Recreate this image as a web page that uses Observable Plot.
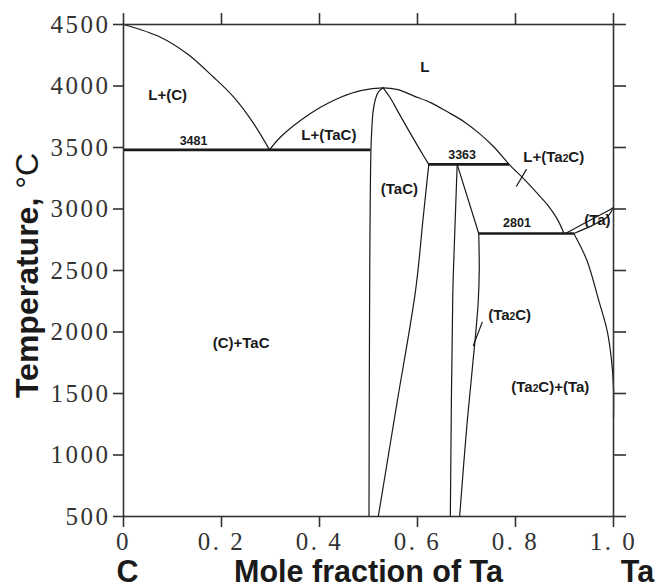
<!DOCTYPE html>
<html><head><meta charset="utf-8">
<script src="https://cdn.jsdelivr.net/npm/d3@7"></script>
<script src="https://cdn.jsdelivr.net/npm/@observablehq/plot@0.6"></script>
<style>
html,body{margin:0;padding:0;background:#fff;}
#chart svg{display:block;}
.serif-ticks text{font-family:"Liberation Serif","DejaVu Serif",serif;letter-spacing:2.5px;}
</style>
</head><body><div id="chart"></div><script>
// Axis ticks
const xTicks = [0, 0.2, 0.4, 0.6, 0.8, 1.0];
const xTickLabels = ["0", "0. 2", "0. 4", "0. 6", "0. 8", "1. 0"];
const yTicks = [500, 1000, 1500, 2000, 2500, 3000, 3500, 4000, 4500];
const yTickLabels = ["500", "1000", "1500", "2000", "2500", "3000", "3500", "4000", "4500"];

// Phase boundaries: [mole fraction Ta, temperature °C]
const liquidusC = [[0,4500],[0.0755,4397],[0.13,4262],[0.184,4071],[0.225,3909],[0.266,3692],[0.298,3481]];
const liquidusTaC = [[0.298,3481],[0.320,3583],[0.361,3719],[0.402,3827],[0.443,3909],[0.484,3963],[0.53,3985],
  [0.56,3970],[0.592,3920],[0.627,3865],[0.661,3790],[0.695,3710],[0.729,3605],[0.757,3500],[0.787,3363],
  [0.817,3245],[0.845,3125],[0.865,3035],[0.885,2920],[0.899,2801]];
const tacLeft = [[0.53,3985],[0.52,3950],[0.514,3890],[0.509,3780],[0.507,3670],[0.505,3481],[0.503,2800],[0.502,2000],[0.501,500]];
const tacRightUpper = [[0.53,3985],[0.545,3900],[0.559,3800],[0.586,3611],[0.606,3475],[0.623,3363]];
const tacRightLower = [[0.623,3363],[0.611,2906],[0.596,2336],[0.558,1420],[0.520,500]];
const ta2cLeft = [[0.681,3363],[0.676,2800],[0.672,2300],[0.667,500]];
const ta2cSolidus = [[0.681,3363],[0.725,2801]];
const ta2cSolvus = [[0.725,2801],[0.726,2500],[0.724,2250],[0.719,2000],[0.713,1750],[0.701,1252],[0.686,500]];
const liquidusTa = [[0.902,2801],[0.953,2911],[0.987,2981],[1.0,3012]];
const solidusTa = [[0.919,2801],[0.960,2873],[0.987,2935],[1.0,3012]];
const solvusTa = [[0.919,2801],[0.946,2580],[0.970,2255],[0.987,2011],[0.996,1767],[1.0,1549],[1.0,1300]];
const leaderTa2CL = [[0.822,3320],[0.802,3185]];
const leaderTa2C = [[0.732,2078],[0.714,1890]];

// Invariant isotherms
const isoTemps = [3481, 3363, 2801];
const isoStart = [0, 0.623, 0.725];
const isoEnd = [0.504, 0.787, 0.919];
const isoLabelX = [0.143, 0.691, 0.803];
const isoLabelT = [3551, 3442, 2884];

// Region labels
const regionNames = ["L", "L+(C)", "L+(TaC)", "(TaC)", "L+(Ta2C)", "(Ta)", "(Ta2C)", "(C)+TaC", "(Ta2C)+(Ta)"];
const regionX = [0.615, 0.090, 0.419, 0.563, 0.878, 0.967, 0.788, 0.240, 0.871];
const regionT = [4153, 3922, 3597, 3163, 3420, 2911, 2133, 1907, 1555];

const smoothCurves = [liquidusC, liquidusTaC, tacLeft, tacRightUpper, tacRightLower, ta2cLeft, ta2cSolvus, liquidusTa, solidusTa, solvusTa];
const straightCurves = [ta2cSolidus, leaderTa2CL, leaderTa2C];
const iso = isoTemps.map((t, i) => ({t, x1: isoStart[i], x2: isoEnd[i], lx: isoLabelX[i], lt: isoLabelT[i]}));
const regions = regionNames.map((n, i) => ({n, x: regionX[i], t: regionT[i]}));
const sans = "Liberation Sans, Arial, Helvetica, sans-serif";
const ink = "#1a1a1a";
const axisInk = "#333333";

const marks = [];
for (const c of smoothCurves) marks.push(Plot.line(c, {x: d => d[0], y: d => d[1], curve: "catmull-rom", stroke: ink, strokeWidth: 1.2}));
for (const c of straightCurves) marks.push(Plot.line(c, {x: d => d[0], y: d => d[1], stroke: ink, strokeWidth: 1.2}));
marks.push(Plot.link(iso, {x1: "x1", x2: "x2", y1: "t", y2: "t", stroke: ink, strokeWidth: 2.6}));
marks.push(Plot.text(iso, {x: "lx", y: "lt", text: d => String(d.t), fontFamily: sans, fontWeight: "bold", fontSize: 12.5, fill: ink}));
marks.push(Plot.text(regions, {x: "x", y: "t", text: "n", fontFamily: sans, fontWeight: "bold", fontSize: 15, fill: ink}));
marks.push(Plot.frame({stroke: axisInk, strokeWidth: 1.6}));
marks.push(Plot.axisX(xTicks, {anchor: "top", tickSize: 12, stroke: axisInk, strokeWidth: 1.6, fill: "none", label: null}));
marks.push(Plot.axisY(yTicks, {anchor: "right", tickSize: 12, stroke: axisInk, strokeWidth: 1.6, fill: "none", label: null}));
marks.push(Plot.axisY(yTicks, {anchor: "left", tickSize: 10, tickPadding: 3, stroke: axisInk, strokeWidth: 1.6, fill: "#333",
  tickFormat: d => yTickLabels[yTicks.indexOf(d)], fontSize: 25, label: null, className: "serif-ticks"}));
marks.push(Plot.axisX(xTicks, {anchor: "bottom", tickSize: 11, tickPadding: 5, stroke: axisInk, strokeWidth: 1.6, fill: "#333",
  tickFormat: d => xTickLabels[xTicks.indexOf(d)], fontSize: 25, label: null, className: "serif-ticks"}));
marks.push(Plot.text(["Mole fraction of Ta"], {frameAnchor: "bottom", dy: 65, lineAnchor: "bottom", fontFamily: sans, fontWeight: "bold", fontSize: 30.5, fill: ink}));
marks.push(Plot.text(["C"], {x: () => 0, frameAnchor: "bottom", dx: 4, dy: 65, lineAnchor: "bottom", fontFamily: sans, fontWeight: "bold", fontSize: 30.5, fill: ink}));
marks.push(Plot.text(["Ta"], {x: () => 1, frameAnchor: "bottom", dx: 24, dy: 65, lineAnchor: "bottom", fontFamily: sans, fontWeight: "bold", fontSize: 30.5, fill: ink}));
marks.push(Plot.text(["Temperature, °C"], {frameAnchor: "left", rotate: -90, dx: -86, dy: 5, textAnchor: "middle", lineAnchor: "bottom", fontFamily: sans, fontWeight: "bold", fontSize: 32, fill: ink}));

const chart = Plot.plot({
  width: 656, height: 588,
  marginLeft: 123, marginRight: 43, marginTop: 24, marginBottom: 72,
  x: {domain: [0, 1]},
  y: {domain: [500, 4500]},
  marks
});
document.getElementById("chart").appendChild(chart);

// Small "2" in Ta2C and thin °C
const NS = "http://www.w3.org/2000/svg";
chart.querySelectorAll("text").forEach(el => {
  const s = el.textContent;
  if (s.includes("Ta2C")) {
    el.textContent = "";
    const parts = s.split("Ta2C");
    parts.forEach((p, i) => {
      if (p) el.appendChild(document.createTextNode(p));
      if (i < parts.length - 1) {
        el.appendChild(document.createTextNode("Ta"));
        const t = document.createElementNS(NS, "tspan");
        t.setAttribute("font-size", "0.68em");
        t.textContent = "2";
        el.appendChild(t);
        el.appendChild(document.createTextNode("C"));
      }
    });
  } else if (s === "Temperature, °C") {
    el.textContent = "Temperature, ";
    const t = document.createElementNS(NS, "tspan");
    t.setAttribute("font-weight", "normal");
    t.textContent = "°C";
    el.appendChild(t);
  }
});
</script></body></html>
